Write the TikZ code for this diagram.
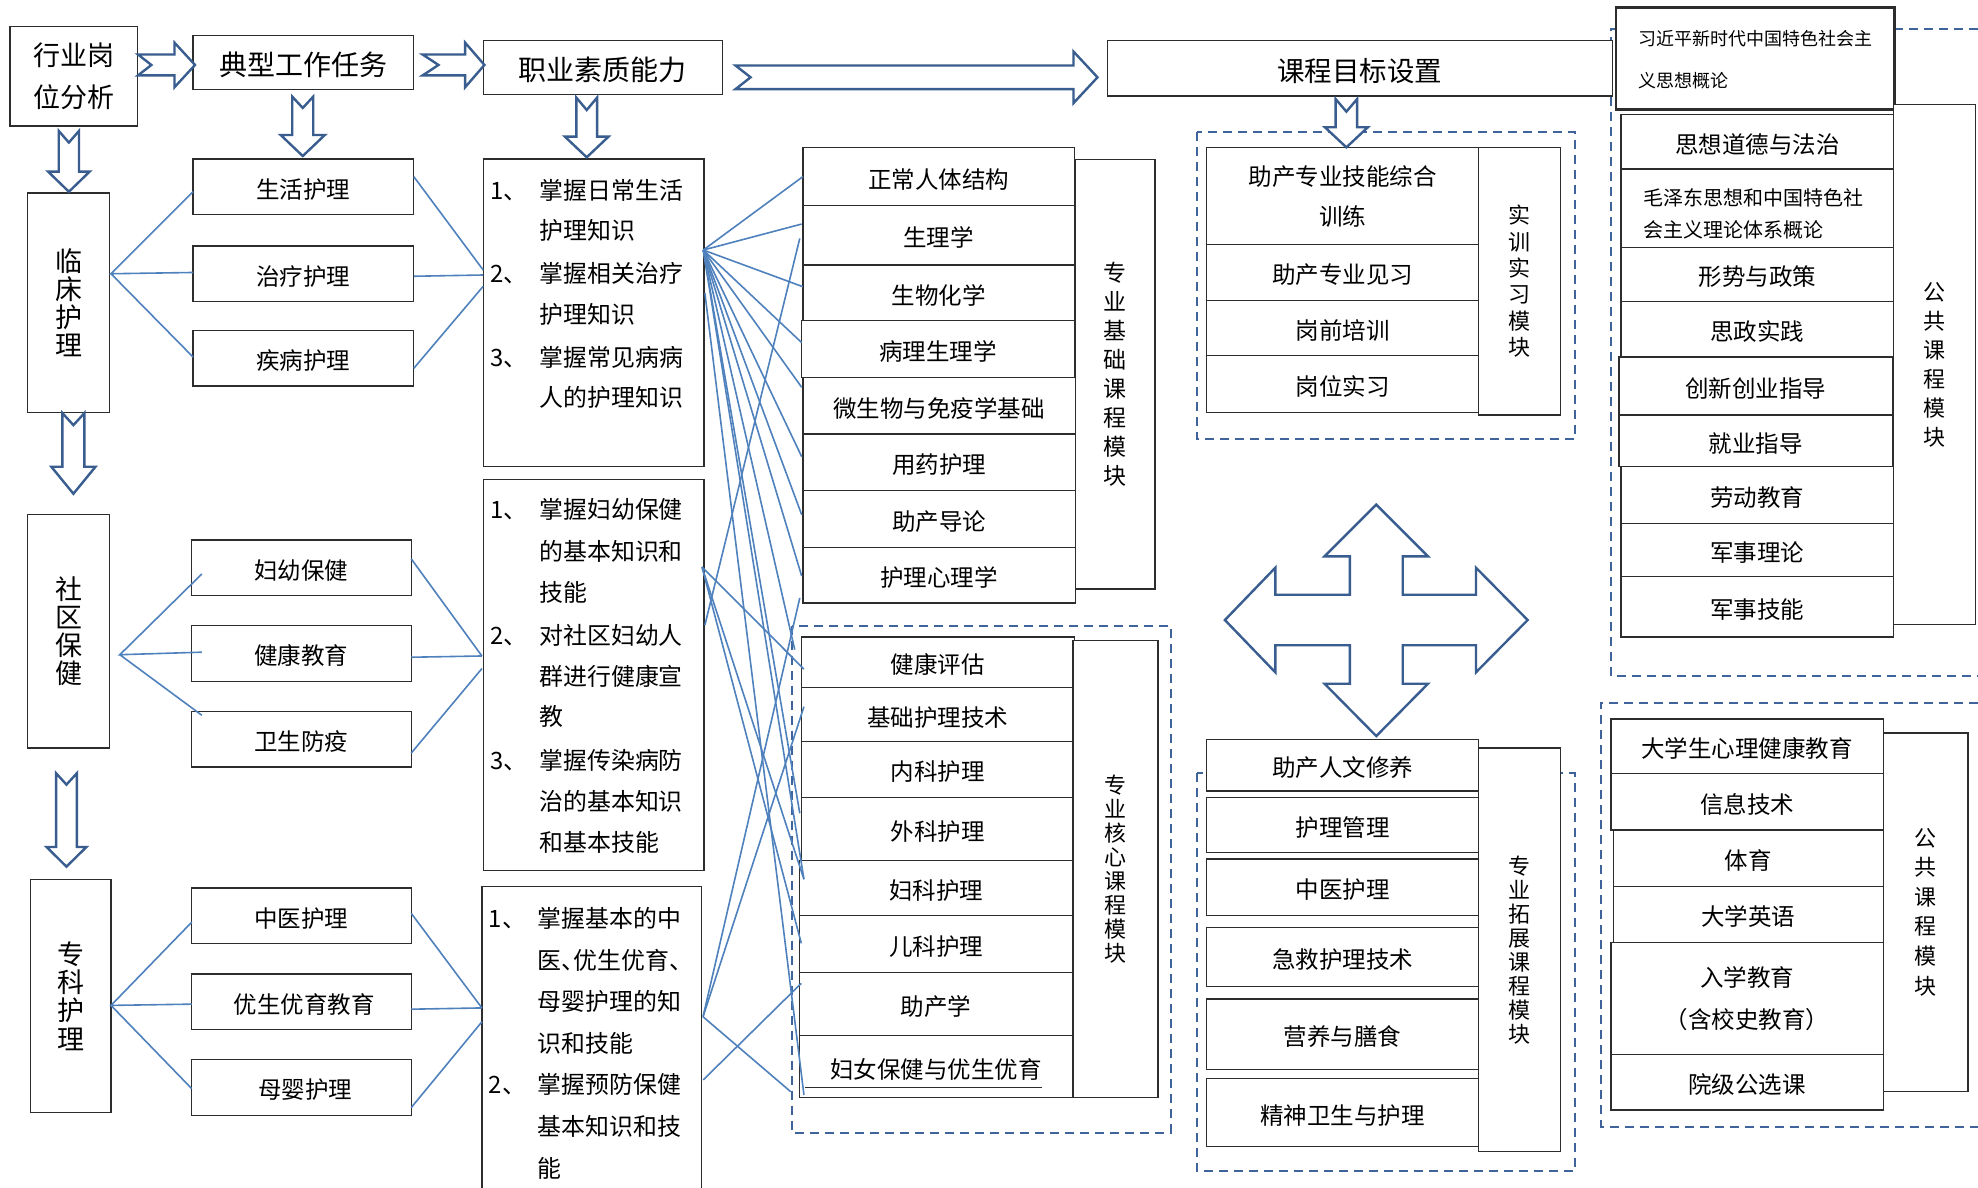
\documentclass[tikz,border=0pt]{standalone}
\usepackage{fontspec}
\setmainfont{Noto Sans CJK SC}
\definecolor{boxc}{RGB}{45,45,45}
\definecolor{linec}{RGB}{79,129,189}
\definecolor{arrc}{RGB}{56,93,142}
\definecolor{dashc}{RGB}{62,100,155}
\newcommand\fz[2]{\fontsize{#1}{#2}\selectfont}
\newcommand\dn[1]{\raisebox{-2.5pt}[\height][\depth]{#1}}
\tikzset{
  box/.style={draw=boxc, line width=1.3pt, fill=white, inner sep=0pt, outer sep=0pt,
              font=\fz{23.5}{30}, align=center},
  conn/.style={draw=linec, line width=1.6pt},
  blockarrow/.style={draw=arrc, line width=2.4pt, fill=white, line join=miter},
  dashbox/.style={draw=dashc, line width=2pt, dash pattern=on 9pt off 6pt},
  ltxt/.style={anchor=west, inner sep=0pt, text height=21pt, text depth=2.9pt, font=\fz{23.9}{30}},
}
% single-line box (text lowered slightly), multi-line box
\newcommand\bx[7][]{\node[box,#1,minimum width={(#5-#3)*1.2615pt},minimum height={(#6-#4)*1.2615pt}] (#2) at ({(#3+#5)/2},{(#4+#6)/2}) {\dn{#7}};}
\newcommand\bxm[7][]{\node[box,#1,minimum width={(#5-#3)*1.2615pt},minimum height={(#6-#4)*1.2615pt}] (#2) at ({(#3+#5)/2},{(#4+#6)/2}) {#7};}
\newcommand\rarr[7]{\draw[blockarrow] (#1,{#5-#6}) -- (#3,{#5-#6}) -- (#3,{#5-#7}) -- (#4,#5) -- (#3,{#5+#7}) -- (#3,{#5+#6}) -- (#1,{#5+#6}) -- (#2,#5) -- cycle;}
\newcommand\darr[7]{\draw[blockarrow] ({#5-#6},#1) -- ({#5-#6},#3) -- ({#5-#7},#3) -- (#5,#4) -- ({#5+#7},#3) -- ({#5+#6},#3) -- ({#5+#6},#1) -- (#5,#2) -- cycle;}
\begin{document}
\begin{tikzpicture}[x=1.2615pt,y=-1.2615pt]
\useasboundingbox (0,0) rectangle (1568,941);
\fill[white] (0,0) rectangle (1568,941);

% dashed module frames
\draw[dashbox] (628,496) rectangle (928,898);
\draw[dashbox] (948.5,105) rectangle (1248.6,348);
\draw[dashbox] (948.5,613) rectangle (1248.6,928);
\draw[dashbox] (1568,23) -- (1277,23) -- (1277,536) -- (1568,536);
\draw[dashbox] (1568,557) -- (1269,557) -- (1269,893) -- (1568,893);

% left column
\bxm[font=\fz{27}{42}]{hy}{8}{21}{109}{100}{行业岗\\位分析}
\bxm[font=\fz{27}{28}]{lc}{22}{153}{87}{327}{临\\床\\护\\理}
\bxm[font=\fz{27}{28}]{sq}{22}{408}{87}{593}{社\\区\\保\\健}
\bxm[font=\fz{27}{28.3}]{zk}{24}{697}{88}{882}{专\\科\\护\\理}

% tasks
\bx[font=\fz{28}{30}]{dx}{153}{28}{328}{71}{典型工作任务}
\bx{t1}{153}{126}{328}{170}{生活护理}
\bx{t2}{153}{195}{328}{239}{治疗护理}
\bx{t3}{153}{262}{328}{306}{疾病护理}
\bx{t4}{152}{428}{326}{472}{妇幼保健}
\bx{t5}{152}{496}{326}{540}{健康教育}
\bx{t6}{152}{564}{326}{608}{卫生防疫}
\bx{t7}{152}{704}{326}{748}{中医护理}
\bx{t8}{152}{772}{326}{816}{\hspace{6pt}优生优育教育}
\bx{t9}{152}{840}{326}{884}{\hspace{8pt}母婴护理}

% competences
\bx[font=\fz{28}{30}]{zy}{383}{32}{573}{75}{职业素质能力}
\bxm{ca}{383}{126}{558}{370}{}
\bxm{cb}{383}{380}{558}{690}{}
\bxm{cc}{382}{703}{556}{960}{}
\node[ltxt] (a1n) at (388.6,151) {1、};
\node[ltxt] (a1) at (427.7,151) {掌握日常生活};
\node[ltxt] (a2) at (427.7,183) {护理知识};
\node[ltxt] (a3n) at (388.6,217) {2、};
\node[ltxt] (a3) at (427.7,217) {掌握相关治疗};
\node[ltxt] (a4) at (427.7,249) {护理知识};
\node[ltxt] (a5n) at (388.6,283) {3、};
\node[ltxt] (a5) at (427.7,283) {掌握常见病病};
\node[ltxt] (a6) at (427.7,315) {人的护理知识};
\node[ltxt] (b1n) at (388.6,404) {1、};
\node[ltxt] (b1) at (427.5,404) {掌握妇幼保健};
\node[ltxt] (b2) at (427.5,437) {的基本知识和};
\node[ltxt] (b3) at (427.5,470) {技能};
\node[ltxt] (b4n) at (388.6,504) {2、};
\node[ltxt] (b4) at (427.5,504) {对社区妇幼人};
\node[ltxt] (b5) at (427.5,536) {群进行健康宣};
\node[ltxt] (b6) at (427.5,568) {教};
\node[ltxt] (b7n) at (388.6,603) {3、};
\node[ltxt] (b7) at (427.5,603) {掌握传染病防};
\node[ltxt] (b8) at (427.5,635) {治的基本知识};
\node[ltxt] (b9) at (427.5,668) {和基本技能};
\node[ltxt] (c1n) at (387.3,728) {1、};
\node[ltxt] (c1) at (426.2,728) {掌握基本的中};
\node[ltxt] (c2) at (426.2,761) {医\makebox[0.5em][l]{、}优生优育\makebox[0.5em][l]{、}};
\node[ltxt] (c3) at (426.2,794) {母婴护理的知};
\node[ltxt] (c4) at (426.2,827) {识和技能};
\node[ltxt] (c5n) at (387.3,860) {2、};
\node[ltxt] (c5) at (426.2,860) {掌握预防保健};
\node[ltxt] (c6) at (426.2,893) {基本知识和技};
\node[ltxt] (c7) at (426.2,926) {能};

% professional basic courses
\bx{k01}{636.5}{117}{851.5}{163}{正常人体结构}
\bx{k02}{636.5}{163}{851.5}{210}{生理学}
\bx{k03}{636.5}{210}{851.5}{254}{生物化学}
\bx{k04}{635.5}{254}{851.5}{299}{病理生理学}
\bx{k05}{636.5}{299}{852.5}{344}{微生物与免疫学基础}
\bx{k06}{636.5}{344}{852.5}{389}{用药护理}
\bx{k07}{636.5}{389}{852.5}{434}{助产导论}
\bx{k08}{636.5}{434}{852.5}{478}{护理心理学}
\bxm[font=\fz{23}{29}]{sb}{852.5}{126.6}{915.6}{467}{专\\业\\基\\础\\课\\程\\模\\块}

% professional core courses
\bx{h1}{635.5}{505}{851.5}{545}{健康评估}
\bx{h2}{635.5}{545}{851.5}{588}{基础护理技术}
\bx{h3}{635.5}{588}{851.5}{632}{内科护理}
\bx{h4}{635.5}{632}{851.5}{682}{外科护理}
\bx{h5}{633.5}{682}{850.5}{726}{妇科护理}
\bx{h6}{633.5}{726}{850.5}{771}{儿科护理}
\bx{h7}{633.5}{771}{850.5}{821}{助产学}
\bx{h8}{633.5}{821}{850.5}{870}{妇女保健与优生优育}
\draw[boxc, line width=1.2pt] (638,862) -- (826,862);
\bxm[font=\fz{22}{24}]{sk}{850.5}{508}{918}{870}{专\\业\\核\\心\\课\\程\\模\\块}

% course target
\bx[font=\fz{27.5}{30}]{mb}{878}{32}{1278}{76}{课程目标设置}

% practice module
\bxm[font=\fz{23.5}{40}]{s1}{956.5}{117}{1172}{194}{助产专业技能综合\\训练}
\bx{s2}{956.5}{194}{1172}{238}{助产专业见习}
\bx{s3}{956.5}{238}{1172}{282}{岗前培训}
\bx{s4}{956.5}{282}{1172}{327}{岗位实习}
\bxm[font=\fz{22}{26.3}]{ss}{1172}{117}{1237}{329}{实\\训\\实\\习\\模\\块}

% extension module
\bx{e1}{956.5}{586}{1172}{627}{助产人文修养}
\bx{e2}{956.5}{632}{1172}{676}{护理管理}
\bx{e3}{956.5}{681}{1172}{725.6}{中医护理}
\bx{e4}{956.5}{735}{1172}{782}{急救护理技术}
\bx{e5}{956.5}{792}{1172}{848}{营养与膳食}
\bx{e6}{956.5}{855}{1172}{909}{精神卫生与护理}
\bxm[font=\fz{22}{24}]{es}{1172}{593}{1237}{913}{专\\业\\拓\\展\\课\\程\\模\\块}

% public courses (top)
\bxm[line width=2.6pt]{xj}{1281}{6}{1502}{87}{}
\node[ltxt, font=\fz{18}{20}, text height=15.8pt, text depth=2.2pt] (xj1) at (1298.5,31) {习近平新时代中国特色社会主};
\node[ltxt, font=\fz{18}{20}, text height=15.8pt, text depth=2.2pt] (xj2) at (1298.5,64) {义思想概论};
\bx{p1}{1285}{91}{1501}{134}{思想道德与法治}
\bxm{p2}{1285}{134}{1501}{196}{}
\node[ltxt, font=\fz{20}{22}, text height=17.6pt, text depth=2.4pt] (p2a) at (1303,157) {毛泽东思想和中国特色社};
\node[ltxt, font=\fz{20}{22}, text height=17.6pt, text depth=2.4pt] (p2b) at (1303,182) {会主义理论体系概论};
\bx{p3}{1285}{196}{1501}{239}{形势与政策}
\bx{p4}{1285}{239}{1501}{283}{思政实践}
\bx{p5}{1283.5}{283}{1500}{329}{创新创业指导}
\bx{p6}{1283.5}{329}{1500}{370}{就业指导}
\bx{p7}{1285}{370}{1501}{415}{劳动教育}
\bx{p8}{1285}{415}{1501}{457}{军事理论}
\bx{p9}{1285}{457}{1501}{505}{军事技能}
\bxm[font=\fz{22}{29}]{ps}{1501}{83}{1566}{495}{公\\共\\课\\程\\模\\块}

% public courses (bottom)
\bx{q1}{1277}{570}{1493}{613}{大学生心理健康教育}
\bx{q2}{1277}{613}{1493}{658}{信息技术}
\bx{q3}{1279}{658}{1493}{702.6}{体育}
\bx{q4}{1279}{702.6}{1493}{747}{大学英语}
\bxm[font=\fz{23.5}{41.6}]{q5}{1277}{747}{1493}{836}{入学教育\\（含校史教育）}
\bx{q6}{1277}{836}{1493}{880}{院级公选课}
\bxm[font=\fz{22}{29.6}]{qs}{1493}{581}{1560}{865}{公\\共\\课\\程\\模\\块}

% connector anchor points
\coordinate (lcR) at (88,217);
\coordinate (t1L) at (153,152); \coordinate (t2L) at (153,216); \coordinate (t3L) at (153,283);
\coordinate (t1R) at (328,140); \coordinate (t2R) at (328,219); \coordinate (t3R) at (328,292);
\coordinate (caL1) at (383,214); \coordinate (caL2) at (383,218); \coordinate (caL3) at (383,227);
\coordinate (sqR) at (95,519);
\coordinate (t4L) at (160,455); \coordinate (t5L) at (160,517); \coordinate (t6L) at (160,567);
\coordinate (t4R) at (326,443); \coordinate (t5R) at (326,521); \coordinate (t6R) at (326,597);
\coordinate (cbL1) at (382,520); \coordinate (cbL3) at (382,530);
\coordinate (zkR) at (88,797);
\coordinate (t7L) at (152,731); \coordinate (t8L) at (152,796); \coordinate (t9L) at (152,863);
\coordinate (t7R) at (326,724); \coordinate (t8R) at (326,800); \coordinate (t9R) at (326,878);
\coordinate (ccL1) at (382,799); \coordinate (ccL3) at (382,810);
\coordinate (PA) at (557.5,198.2); \coordinate (PA2) at (558.8,232.5);
\coordinate (PB) at (556.5,449.5); \coordinate (PB2) at (558.8,495.4);
\coordinate (PC) at (557.3,806); \coordinate (PC2) at (557.5,856);
\coordinate (E1) at (637.3,530.4); \coordinate (E2) at (630,515);
\coordinate (E3) at (637.3,560.2); \coordinate (E4) at (634,644.7);
\coordinate (E5) at (637.3,697); \coordinate (E6) at (635.2,747.8);
\coordinate (E7) at (637.3,868); \coordinate (E8) at (635.2,779.5);
\coordinate (E9) at (626.8,865.4);
\coordinate (F1) at (636.5,140); \coordinate (F2) at (635.5,177.6);
\coordinate (F3) at (636.5,227.3); \coordinate (F4) at (635.5,271.6);
\coordinate (F5) at (635.5,307); \coordinate (F6) at (635.5,362);
\coordinate (F7) at (635.5,408); \coordinate (F8) at (635.5,456.6);
\coordinate (G1) at (634,189); \coordinate (G2) at (634,474);

% connectors
\draw[conn] (t1L) -- (lcR) -- (t2L) (lcR) -- (t3L);
\draw[conn] (t1R) -- (caL1) (t2R) -- (caL2) (t3R) -- (caL3);
\draw[conn] (t4L) -- (sqR) -- (t5L) (sqR) -- (t6L);
\draw[conn] (t4R) -- (cbL1) (t5R) -- (cbL1) (t6R) -- (cbL3);
\draw[conn] (t7L) -- (zkR) -- (t8L) (zkR) -- (t9L);
\draw[conn] (t7R) -- (ccL1) (t8R) -- (ccL1) (t9R) -- (ccL3);
\foreach \e in {F1,F2,F3,F4,F5,F6,F7,F8,E2,E4,E5} \draw[conn] (PA) -- (\e);
\draw[conn] (PA2) -- (E7);
\foreach \e in {E1,E5,E6} \draw[conn] (PB) -- (\e);
\draw[conn] (PB2) -- (G1);
\foreach \e in {G2,E3,E9} \draw[conn] (PC) -- (\e);
\draw[conn] (PC2) -- (E8);

% block arrows
\rarr{109.4}{120}{138.3}{154.6}{51.5}{8.3}{17.7}
\rarr{335}{347.6}{368.7}{384}{51.5}{8.3}{17.7}
\rarr{583}{595}{851}{870}{61.3}{9.4}{20.4}
\darr{103.8}{113}{136}{152}{54.6}{8}{16.5}
\darr{76.6}{85.6}{107}{123.7}{240}{8.3}{17.5}
\darr{77.4}{87.2}{108.3}{124.7}{465.1}{8.2}{17.3}
\darr{78.5}{88.5}{100.9}{116.8}{1067.3}{8.5}{17}
\darr{327.5}{337}{370}{391.4}{58.2}{8.7}{17.5}
\darr{613}{622}{671.4}{687}{52.7}{8.2}{15.8}
\draw[blockarrow] (1091,400) -- (1132,441) -- (1112,441) -- (1112,471.5) -- (1170,471.5) -- (1170,450) -- (1211,491.5) -- (1170,533) -- (1170,511.5) -- (1112,511.5) -- (1112,542) -- (1132,542) -- (1091,583.5) -- (1050,542) -- (1070,542) -- (1070,511.5) -- (1011,511.5) -- (1011,533) -- (971,491.5) -- (1011,450) -- (1011,471.5) -- (1070,471.5) -- (1070,441) -- (1050,441) -- cycle;
\end{tikzpicture}
\end{document}
